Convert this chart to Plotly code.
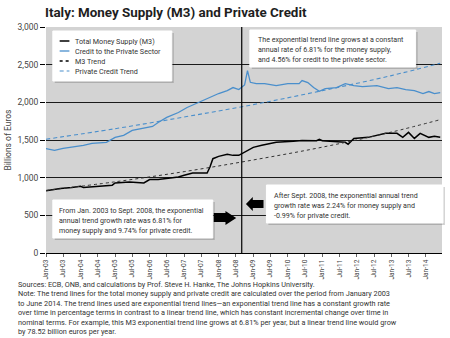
import plotly.graph_objects as go

# ---------------- data (billions of euros) ----------------
m3_dates = ["2003-01","2003-06","2003-10","2004-01","2004-02","2004-07","2004-12","2005-01","2005-06","2005-11",
            "2006-01","2006-04","2006-07","2006-11","2007-01","2007-04","2007-09","2007-10","2007-11","2008-01",
            "2008-04","2008-06","2008-08","2008-10","2008-11","2008-12","2009-01","2009-04","2009-09","2010-03",
            "2010-06","2010-11","2010-12","2011-01","2011-04","2011-09","2011-10","2011-12","2012-05","2012-08",
            "2012-11","2013-03","2013-05","2013-07","2013-09","2013-11","2014-02","2014-04","2014-06"]
m3_values = [826,856,869,886,869,886,900,930,943,930,
             975,975,988,1010,1032,1062,1062,1141,1252,1283,
             1310,1296,1296,1340,1365,1389,1402,1429,1469,1482,
             1495,1490,1510,1490,1482,1469,1442,1521,1535,1561,
             1588,1588,1535,1601,1521,1588,1535,1548,1535]

credit_dates = ["2003-01","2003-04","2003-07","2003-10","2004-02","2004-05","2004-10","2005-01","2005-04","2005-07",
                "2005-11","2006-02","2006-04","2006-07","2006-11","2007-02","2007-06","2007-09","2008-01","2008-04",
                "2008-06","2008-08","2008-10","2008-11","2008-12","2009-02","2009-05","2009-09","2010-01","2010-05",
                "2010-06","2010-08","2010-10","2010-12","2011-02","2011-06","2011-09","2011-12","2012-03","2012-08",
                "2012-12","2013-03","2013-06","2013-09","2013-12","2014-02","2014-04","2014-06"]
credit_values = [1385,1362,1389,1402,1429,1455,1469,1535,1561,1627,
                 1654,1680,1733,1800,1865,1932,1998,2050,2117,2156,
                 2196,2170,2230,2421,2266,2249,2249,2222,2249,2249,
                 2289,2262,2196,2147,2183,2196,2249,2222,2209,2222,
                 2183,2196,2170,2156,2117,2143,2117,2130]

trend_dates = ["2003-01","2005-01","2007-01","2009-01","2011-01","2013-01","2014-06"]
m3_trend = [830, 945, 1080, 1235, 1405, 1605, 1770]
credit_trend = [1510, 1650, 1805, 1970, 2155, 2355, 2520]

break_date = "2008-09-01"

legend_labels = ["Total Money Supply (M3)", "Credit to the Private Sector", "M3 Trend", "Private Credit Trend"]
title_text = "Italy: Money Supply (M3) and Private Credit"
box_top = ["The exponential trend line grows at a constant",
           "annual rate of 6.81% for the money supply,",
           "and 4.56% for credit to the private sector."]
box_left = ["From Jan. 2003 to Sept. 2008, the exponential",
            "annual trend growth rate was 6.81% for",
            "money supply and 9.74% for private credit."]
box_right = ["After Sept. 2008, the exponential annual trend",
             "growth rate was 2.24% for money supply and",
             "-0.99% for private credit."]
footer = ["Sources: ECB, ONB, and calculations by Prof. Steve H. Hanke, The Johns Hopkins University.",
          "Note: The trend lines for the total money supply and private credit are calculated over the period from January 2003",
          "to June 2014. The trend lines used are exponential trend lines\u2014an exponential trend line has a constant growth rate",
          "over time in percentage terms in contrast to a linear trend line, which has constant incremental change over time in",
          "nominal terms. For example, this M3 exponential trend line grows at 6.81% per year, but a linear trend line would grow",
          "by 78.52 billion euros per year."]

# ---------------- layout helpers ----------------
W_PX, H_PX = 450, 338
ML, MR, MT, MB = 36, 8, 27, 85
PW = W_PX - ML - MR
PH = H_PX - MT - MB

def px(x):
    return (x - ML) / PW

def py(y):
    return (H_PX - MB - y) / PH

FONT = "Roboto, Arial, sans-serif"
TXT = "#333333"
BLUE = "#4a8fcc"

fig = go.Figure()
fig.add_trace(go.Scatter(x=m3_dates, y=m3_values, mode="lines", name=legend_labels[0],
                         line=dict(color="black", width=1.5)))
fig.add_trace(go.Scatter(x=credit_dates, y=credit_values, mode="lines", name=legend_labels[1],
                         line=dict(color=BLUE, width=1.3)))
fig.add_trace(go.Scatter(x=trend_dates, y=m3_trend, mode="lines", name=legend_labels[2],
                         line=dict(color="#333333", width=1, dash="dot", shape="spline")))
fig.add_trace(go.Scatter(x=trend_dates, y=credit_trend, mode="lines", name=legend_labels[3],
                         line=dict(color=BLUE, width=1.1, dash="4px,3px", shape="spline")))

shapes = []
annotations = []

# vertical break line
shapes.append(dict(type="line", xref="x", yref="paper", x0=break_date, x1=break_date, y0=0, y1=1,
                   line=dict(color="black", width=1.2), layer="above"))

def box(x0, y0, x1, y1):
    shapes.append(dict(type="rect", xref="paper", yref="paper", x0=px(x0 + 2), x1=px(x1 + 2),
                       y0=py(y1 + 2), y1=py(y0 + 2), fillcolor="rgba(0,0,0,0.18)",
                       line=dict(color="rgba(0,0,0,0)", width=0), layer="above"))
    shapes.append(dict(type="rect", xref="paper", yref="paper", x0=px(x0), x1=px(x1),
                       y0=py(y1), y1=py(y0), fillcolor="#ffffff", opacity=1,
                       line=dict(color="#ffffff", width=1), layer="above"))

def text_line(s, x, y, size=7.1, color=TXT, bold=False, family=FONT, yanchor="middle"):
    annotations.append(dict(text=("<b>%s</b>" % s) if bold else s, xref="paper", yref="paper",
                            x=px(x), y=py(y), xanchor="left", yanchor=yanchor, showarrow=False,
                            align="left", font=dict(size=size, color=color, family=family)))

# legend box
box(43, 31, 165, 81)
leg_styles = [("black", "solid", 1.5), (BLUE, "solid", 1.3), ("black", "dot", 1.3), (BLUE, "4px,3px", 1.1)]
for i, (lab, (c, d, w)) in enumerate(zip(legend_labels, leg_styles)):
    yy = 41 + i * 10
    shapes.append(dict(type="line", xref="paper", yref="paper", x0=px(50), x1=px(60), y0=py(yy), y1=py(yy),
                       line=dict(color=c, width=w, dash=d), layer="above"))
    text_line(lab, 64, yy, size=7.2)

# text boxes
box(245, 30, 415, 67)
for i, s in enumerate(box_top):
    text_line(s, 251, 40 + i * 9.7)
box(43, 200, 207, 238)
for i, s in enumerate(box_left):
    text_line(s, 47, 210 + i * 10)
box(262, 185, 443, 223)
for i, s in enumerate(box_right):
    text_line(s, 268, 195 + i * 10)

# block arrows
def path(pts):
    return "M " + " L ".join("%f,%f" % (px(a), py(b)) for a, b in pts) + " Z"

shapes.append(dict(type="path", xref="paper", yref="paper", layer="above",
                   path=path([(208, 213), (220, 213), (220, 211), (231, 218), (220, 225), (220, 222), (208, 222)]),
                   fillcolor="black", line=dict(width=0)))
shapes.append(dict(type="path", xref="paper", yref="paper", layer="above",
                   path=path([(259, 200), (248, 200), (248, 197), (241, 204), (248, 211), (248, 208), (259, 208)]),
                   fillcolor="black", line=dict(width=0)))

# title
text_line(title_text, 33, 12, size=13.4, color="#1e1e1e", bold=True)

# footer (one multi-line block)
text_line("<br>".join(footer), 5, 278, size=7.3, color="#333333", yanchor="top")

fig.update_layout(
    width=W_PX, height=H_PX,
    margin=dict(l=ML, r=MR, t=MT, b=MB),
    paper_bgcolor="white", plot_bgcolor="#d3d3d3",
    showlegend=False,
    shapes=shapes, annotations=annotations,
    font=dict(family=FONT, color=TXT),
)
fig.update_xaxes(range=["2003-01-01", "2014-06-20"], tick0="2003-01-01", dtick="M6", tickformat="%b-%y",
                 tickangle=-90, tickfont=dict(size=6.5, color="#444444"), showgrid=False,
                 showline=True, linecolor="black", linewidth=1.2, ticks="outside", ticklen=3,
                 tickcolor="#666666", zeroline=False)
fig.update_yaxes(range=[0, 3000], dtick=500, tickformat=",", showgrid=True, gridcolor="#1a1a1a",
                 gridwidth=1, zeroline=True, zerolinecolor="black", zerolinewidth=1.2,
                 ticks="outside", ticklen=5, tickcolor="black", tickfont=dict(size=8.5, color="#444444"),
                 title=dict(text="Billions of Euros", font=dict(size=8.5, color="#444444"), standoff=4),
                 showline=False)

fig.write_html("out.html")
